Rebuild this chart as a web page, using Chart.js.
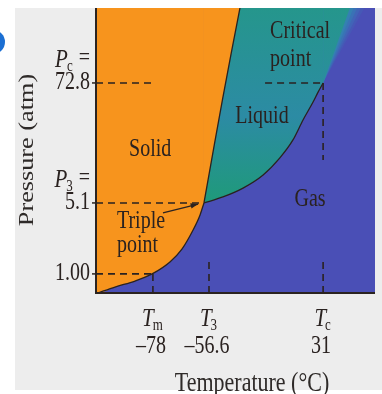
<!doctype html>
<html>
<head>
    <meta charset="UTF-8">
    <title>CO2 phase diagram</title>
    <script src="https://cdn.jsdelivr.net/npm/chart.js@4.4.1/dist/chart.umd.min.js"></script>
    <style>
        body { margin: 0; background: #ffffff; }
        #chart-area { display: block; }
    </style>
</head>
<body>
<canvas id="chart-area" width="382" height="394"></canvas>
<script>
    // schematic units: x 0..100 (temperature, not to scale), y 0..100 (pressure, not to scale)
    var sublimationCurve = [
        {x: 0.7, y: 0}, {x: 6.8, y: 2.1}, {x: 14.0, y: 4.2}, {x: 20.1, y: 6.7}, {x: 26.5, y: 10.9},
        {x: 30.8, y: 15.4}, {x: 34.8, y: 22.1}, {x: 37.3, y: 27.4}, {x: 38.7, y: 31.6}
    ];
    var meltingCurve = [
        {x: 38.7, y: 31.6}, {x: 42.0, y: 49.8}, {x: 45.3, y: 67.7}, {x: 48.5, y: 84.3}, {x: 51.6, y: 100}
    ];
    var vaporCurve = [
        {x: 38.7, y: 31.6}, {x: 45.5, y: 33.7}, {x: 52.7, y: 36.8}, {x: 59.9, y: 41.4}, {x: 65.9, y: 47.4},
        {x: 70.6, y: 53.7}, {x: 74.2, y: 60.7}, {x: 77.8, y: 67.0}, {x: 79.6, y: 70.5}, {x: 81.4, y: 73.7}
    ];
    var supercriticalEdge = [{x: 81.4, y: 73.7}, {x: 91.0, y: 100}];
    var edgeBlend = [
        {top: 92.3, color: '#3480b2'},
        {top: 93.6, color: '#3a72b6'},
        {top: 94.9, color: '#4164b7'},
        {top: 96.2, color: '#4658b6'}
    ];

    var xTickValues = [20.4, 40.5, 81.4];
    var xTickSymbols = [['T', 'm'], ['T', '3'], ['T', 'c']];
    var xTickNumbers = ['\u201378', '\u201356.6', '31'];
    var yTickValues = [73.7, 31.6, 6.7];
    var yTickSymbols = [['P', 'c'], ['P', '3'], null];
    var yTickNumbers = ['72.8', '5.1', '1.00'];

    var guideLines = [
        [{x: 0, y: 73.7}, {x: 21, y: 73.7}],
        [{x: 60.6, y: 73.7}, {x: 81.4, y: 73.7}],
        [{x: 81.4, y: 73.7}, {x: 81.4, y: 46.7}],
        [{x: 81.4, y: 10.9}, {x: 81.4, y: 0}],
        [{x: 0, y: 31.6}, {x: 38.7, y: 31.6}],
        [{x: 40.5, y: 10.9}, {x: 40.5, y: 0}],
        [{x: 0, y: 6.7}, {x: 20.1, y: 6.7}],
        [{x: 20.4, y: 6.7}, {x: 20.4, y: 0}]
    ];
    var tripleArrow = [{x: 24.0, y: 28.1}, {x: 36.6, y: 31.2}];

    var regionLabels = [
        {text: 'Solid', x: 19.4, y: 50.2, align: 'center'},
        {text: 'Liquid', x: 59.5, y: 61.8, align: 'center'},
        {text: 'Gas', x: 76.7, y: 32.6, align: 'center'},
        {text: 'Critical', x: 62.4, y: 91.6, align: 'left'},
        {text: 'point', x: 62.4, y: 81.8, align: 'left'},
        {text: 'Triple', x: 7.5, y: 24.9, align: 'left'},
        {text: 'point', x: 7.5, y: 16.5, align: 'left'}
    ];

    var ink = '#2a2220';
    var serif = '"Liberation Serif", "DejaVu Serif", serif';

    function liquidFill(context) {
        var area = context.chart.chartArea;
        if (!area) return '#2a8f9a';
        var g = context.chart.ctx.createLinearGradient(0, area.top, 0, area.bottom);
        g.addColorStop(0, '#25968c');
        g.addColorStop(0.38, '#2c8ba4');
        g.addColorStop(0.68, '#1f9a7a');
        g.addColorStop(1, '#1f9a7a');
        return g;
    }

    function curve(data, order) {
        return {data: data, borderColor: ink, borderWidth: 1.3, pointRadius: 0, fill: false,
            cubicInterpolationMode: 'monotone', order: order};
    }
    function area(data, color, order, smooth) {
        return {data: data, borderWidth: 0, borderColor: 'rgba(0,0,0,0)', pointRadius: 0,
            fill: 'end', backgroundColor: color, order: order,
            cubicInterpolationMode: smooth ? 'monotone' : 'default', tension: 0};
    }

    var datasets = [];
    guideLines.forEach(function (seg) {
        datasets.push({data: seg, borderColor: ink, borderWidth: 1.6, borderDash: [7, 5],
            pointRadius: 0, fill: false, order: 0});
    });
    datasets.push({data: tripleArrow, borderColor: ink, borderWidth: 1.2, pointRadius: 0, fill: false, order: 0});
    datasets.push(curve(sublimationCurve, 1));
    datasets.push(curve(meltingCurve, 1));
    datasets.push(curve(vaporCurve, 1));
    datasets.push(area([{x: 0, y: 0}].concat(sublimationCurve), '#f7941d', 2, true));
    datasets.push(area(meltingCurve, '#f7941d', 2, true));
    datasets.push(area(vaporCurve, liquidFill, 3, true));
    datasets.push(area(supercriticalEdge, liquidFill, 3, false));
    edgeBlend.forEach(function (b, i) {
        datasets.push(area([supercriticalEdge[0], {x: b.top, y: 100}], b.color, 4 + i, false));
    });

    function stretchedText(ctx, str, x, y, size, align, italic) {
        ctx.save();
        ctx.font = (italic ? 'italic ' : '') + size + 'px ' + serif;
        ctx.textAlign = align;
        ctx.textBaseline = 'middle';
        ctx.translate(x, y);
        ctx.scale(1, 1.22);
        ctx.fillText(str, 0, 0);
        ctx.restore();
    }

    function symbolWidth(ctx, sym, size) {
        ctx.font = 'italic ' + size + 'px ' + serif;
        var w = ctx.measureText(sym[0]).width;
        ctx.font = Math.round(size * 0.62) + 'px ' + serif;
        return w + ctx.measureText(sym[1]).width;
    }
    function drawSymbol(ctx, sym, left, y, size) {
        ctx.save();
        ctx.textAlign = 'left';
        ctx.textBaseline = 'middle';
        ctx.font = 'italic ' + size + 'px ' + serif;
        var w = ctx.measureText(sym[0]).width;
        ctx.translate(left, y);
        ctx.scale(1, 1.22);
        ctx.fillText(sym[0], 0, 0);
        ctx.font = Math.round(size * 0.62) + 'px ' + serif;
        ctx.fillText(sym[1], w - 1, 6);
        ctx.restore();
        return w + ctx.measureText(sym[1]).width;
    }

    var phasePlugin = {
        id: 'phase',
        beforeDraw: function (chart) {
            var ctx = chart.ctx, a = chart.chartArea;
            ctx.save();
            ctx.fillStyle = '#ffffff';
            ctx.fillRect(0, 0, chart.width, chart.height);
            ctx.fillStyle = '#ededed';
            ctx.fillRect(15, 8, chart.width - 15, 382);
            ctx.fillStyle = '#1b6fd3';
            ctx.beginPath();
            ctx.arc(-7, 42, 12, 0, Math.PI * 2);
            ctx.fill();
            ctx.fillStyle = '#4a4fb6';
            ctx.fillRect(a.left, a.top, a.right - a.left, a.bottom - a.top);
            ctx.restore();
        },
        afterDraw: function (chart) {
            var ctx = chart.ctx, a = chart.chartArea;
            var xs = chart.scales.x, ys = chart.scales.y;
            ctx.save();
            ctx.fillStyle = ink;
            ctx.strokeStyle = ink;

            // arrow head
            var p0 = {x: xs.getPixelForValue(tripleArrow[0].x), y: ys.getPixelForValue(tripleArrow[0].y)};
            var p1 = {x: xs.getPixelForValue(tripleArrow[1].x), y: ys.getPixelForValue(tripleArrow[1].y)};
            var ang = Math.atan2(p1.y - p0.y, p1.x - p0.x);
            ctx.beginPath();
            ctx.moveTo(p1.x, p1.y);
            ctx.lineTo(p1.x - 8 * Math.cos(ang - 0.35), p1.y - 8 * Math.sin(ang - 0.35));
            ctx.lineTo(p1.x - 8 * Math.cos(ang + 0.35), p1.y - 8 * Math.sin(ang + 0.35));
            ctx.closePath();
            ctx.fill();

            // frame: left and bottom
            ctx.lineWidth = 2;
            ctx.strokeStyle = '#2b2320';
            ctx.beginPath();
            ctx.moveTo(a.left, a.top);
            ctx.lineTo(a.left, a.bottom);
            ctx.lineTo(a.right, a.bottom);
            ctx.stroke();

            // region labels
            regionLabels.forEach(function (l) {
                stretchedText(ctx, l.text, xs.getPixelForValue(l.x), ys.getPixelForValue(l.y), 20, l.align, false);
            });

            // x ticks
            xTickValues.forEach(function (v, i) {
                var px = xs.getPixelForValue(v);
                var w = symbolWidth(ctx, xTickSymbols[i], 21);
                drawSymbol(ctx, xTickSymbols[i], px - w / 2, a.bottom + 26, 21);
                stretchedText(ctx, xTickNumbers[i], px - 2, a.bottom + 54, 20, 'center', false);
            });
            // y ticks
            yTickValues.forEach(function (v, i) {
                var py = ys.getPixelForValue(v);
                stretchedText(ctx, yTickNumbers[i], a.left - 6, py, 20, 'right', false);
                if (yTickSymbols[i]) {
                    ctx.font = '20px ' + serif;
                    var eq = ctx.measureText(' =').width;
                    var w = symbolWidth(ctx, yTickSymbols[i], 21);
                    var left = a.left - 6 - eq - w;
                    drawSymbol(ctx, yTickSymbols[i], left, py - 23, 21);
                    stretchedText(ctx, ' =', a.left - 6, py - 24, 20, 'right', false);
                }
                ctx.lineWidth = 1.5;
                ctx.beginPath();
                ctx.moveTo(a.left - 4, py);
                ctx.lineTo(a.left, py);
                ctx.stroke();
            });

            // axis titles
            ctx.fillStyle = '#2e2a28';
            stretchedText(ctx, 'Temperature (\u00b0C)', 252, 384, 22, 'center', false);
            ctx.save();
            ctx.translate(27, 150);
            ctx.rotate(-Math.PI / 2);
            ctx.font = '21px ' + serif;
            ctx.textAlign = 'center';
            ctx.textBaseline = 'middle';
            ctx.scale(1.25, 1);
            ctx.fillText('Pressure (atm)', 0, 0);
            ctx.restore();
            ctx.restore();
        }
    };

    var config = {
        type: 'line',
        data: {datasets: datasets},
        options: {
            responsive: false,
            animation: false,
            layout: {padding: {left: 96, top: 8, right: 7, bottom: 101}},
            plugins: {legend: {display: false}, tooltip: {enabled: false}},
            scales: {
                x: {type: 'linear', min: 0, max: 100, display: false},
                y: {type: 'linear', min: 0, max: 100, display: false}
            }
        },
        plugins: [phasePlugin]
    };

    var ctx = document.getElementById('chart-area').getContext('2d');
    window.phaseChart = new Chart(ctx, config);
</script>
</body>
</html>
